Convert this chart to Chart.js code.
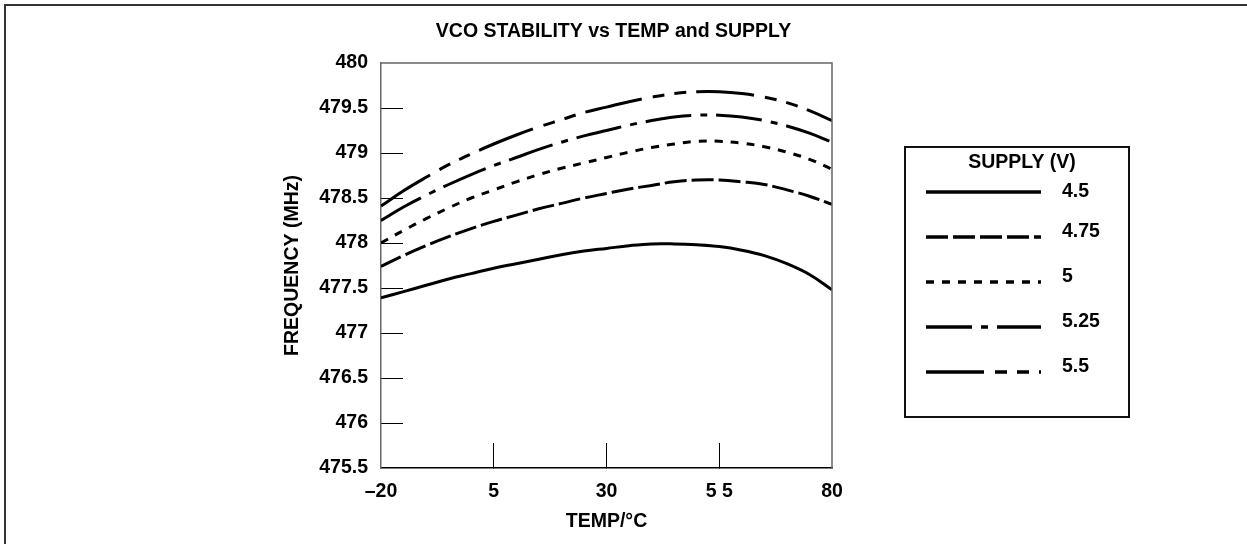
<!DOCTYPE html>
<html>
<head>
<meta charset="utf-8">
<script src="https://cdn.jsdelivr.net/npm/chart.js@4/dist/chart.umd.min.js"></script>
<style>
  html, body { margin: 0; padding: 0; background: #fff; }
  #wrap { position: relative; width: 1247px; height: 544px; overflow: hidden; }
  #frame { position: absolute; left: 4px; top: 4px; right: -10px; bottom: -10px;
           border-top: 2px solid #333; border-left: 2px solid #333; }
  #chart { position: absolute; left: 0; top: 0; }
</style>
</head>
<body>
<div id="wrap">
  <div id="frame"></div>
  <canvas id="chart" width="1247" height="544"></canvas>
</div>
<script>
// temperature (°C) and frequency (MHz) for each supply voltage
const temps = [-20, -15, -10, -5, 0, 5, 10, 15, 20, 25, 30, 35, 40, 45, 50, 55, 60, 65, 70, 75, 80]
const supply450 = [477.39, 477.46, 477.53, 477.60, 477.66, 477.72, 477.77, 477.82, 477.87, 477.91, 477.94, 477.97, 477.99, 477.99, 477.98, 477.96, 477.92, 477.86, 477.77, 477.65, 477.48]
const supply475 = [477.74, 477.86, 477.97, 478.07, 478.16, 478.24, 478.31, 478.38, 478.44, 478.50, 478.55, 478.60, 478.64, 478.68, 478.70, 478.70, 478.68, 478.65, 478.59, 478.52, 478.43]
const supply500 = [478.00, 478.14, 478.27, 478.39, 478.50, 478.59, 478.68, 478.76, 478.83, 478.89, 478.95, 479.01, 479.06, 479.10, 479.13, 479.13, 479.11, 479.07, 479.01, 478.93, 478.82]
const supply525 = [478.25, 478.40, 478.53, 478.65, 478.76, 478.86, 478.95, 479.04, 479.12, 479.19, 479.25, 479.31, 479.36, 479.40, 479.42, 479.42, 479.40, 479.36, 479.30, 479.22, 479.12]
const supply550 = [478.41, 478.58, 478.73, 478.87, 478.99, 479.10, 479.20, 479.29, 479.37, 479.45, 479.51, 479.57, 479.62, 479.66, 479.68, 479.68, 479.66, 479.62, 479.56, 479.47, 479.36]
const supplyLabels = ['4.5', '4.75', '5', '5.25', '5.5']
const xTickLabels = ['\u201320', '5', '30', '5 5', '80']
const yTickLabels = ['475.5', '476', '476.5', '477', '477.5', '478', '478.5', '479', '479.5', '480']

const FONT = "'Liberation Sans', Arial, Helvetica, sans-serif"
const bold = { family: FONT, size: 19.5, weight: 'bold' }

const series = [supply450, supply475, supply500, supply525, supply550]
const dashes = [[], [22, 5], [8, 8], [46, 9, 7, 9], [58, 11, 12, 10, 12, 10]]

const toPoints = vals => vals.map((v, i) => ({ x: temps[i], y: v }))

// top + right border of the plot
const plotFrame = {
  id: 'plotFrame',
  afterDraw(chart) {
    const { ctx, chartArea: a } = chart
    ctx.save()
    ctx.strokeStyle = '#666'
    ctx.lineWidth = 1.5
    ctx.beginPath()
    ctx.moveTo(a.left, a.top)
    ctx.lineTo(a.right, a.top)
    ctx.lineTo(a.right, a.bottom)
    ctx.stroke()
    ctx.restore()
  }
}

// boxed SUPPLY (V) legend to the right of the plot
const supplyLegend = {
  id: 'supplyLegend',
  afterDraw(chart) {
    const { ctx, chartArea: a } = chart
    const x0 = a.right + 73
    const y0 = a.top + 84
    ctx.save()
    ctx.strokeStyle = '#111'
    ctx.lineWidth = 2
    ctx.strokeRect(x0, y0, 224, 270)
    ctx.fillStyle = '#000'
    ctx.font = `bold 19.5px ${FONT}`
    ctx.textAlign = 'center'
    ctx.textBaseline = 'middle'
    ctx.fillText('SUPPLY (V)', x0 + 117, y0 + 16)
    chart.data.datasets.forEach((ds, i) => {
      const y = y0 + 45 + i * 45
      ctx.setLineDash(ds.borderDash)
      ctx.lineWidth = 3.5
      ctx.strokeStyle = '#000'
      ctx.beginPath()
      ctx.moveTo(x0 + 21, y)
      ctx.lineTo(x0 + 136, y)
      ctx.stroke()
      ctx.setLineDash([])
      ctx.textAlign = 'left'
      ctx.fillText(ds.label, x0 + 157, y - (i ? 5 : 0))
    })
    ctx.restore()
  }
}

const ctx = document.getElementById('chart').getContext('2d')
const chart = new Chart(ctx, {
  type: 'line',
  data: {
    datasets: series.map((vals, i) => ({
      label: supplyLabels[i],
      data: toPoints(vals),
      borderColor: '#000',
      borderWidth: 3,
      borderDash: dashes[i],
      borderCapStyle: 'butt',
      pointRadius: 0,
      tension: 0.4,
      fill: false,
    })),
  },
  options: {
    responsive: false,
    animation: false,
    devicePixelRatio: 1,
    layout: { padding: { left: 0, right: 20, top: 0, bottom: 0 } },
    plugins: {
      legend: { display: false },
      tooltip: { enabled: false },
      title: {
        display: true,
        text: 'VCO STABILITY vs TEMP and SUPPLY',
        color: '#000',
        font: bold,
        padding: { top: 20, bottom: 19.6 },
      },
    },
    scales: {
      x: {
        type: 'linear',
        min: -20,
        max: 80,
        afterFit: s => { s.height = 76 },
        ticks: {
          stepSize: 25,
          color: '#000',
          font: bold,
          padding: 37,
          maxRotation: 0,
          callback: (value, index) => xTickLabels[index],
        },
        grid: {
          drawOnChartArea: false,
          tickLength: -25,
          lineWidth: 1,
          color: c => (c.tick && (c.tick.value === -20 || c.tick.value === 80)) ? 'rgba(0,0,0,0)' : '#000',
        },
        border: { color: '#000', width: 1.5 },
        title: {
          display: true,
          text: 'TEMP/\u00b0C',
          color: '#000',
          font: bold,
          padding: { top: 0, bottom: 10.6 },
        },
      },
      y: {
        type: 'linear',
        position: 'left',
        min: 475.5,
        max: 480,
        afterFit: s => { s.width = 381 },
        ticks: {
          stepSize: 0.5,
          color: '#000',
          font: bold,
          padding: 35,
          callback: (value, index) => yTickLabels[index],
        },
        grid: {
          drawOnChartArea: false,
          tickLength: -22,
          lineWidth: 1,
          color: c => (c.tick && (c.tick.value === 480 || c.tick.value === 475.5)) ? 'rgba(0,0,0,0)' : '#000',
        },
        border: { color: '#666', width: 1.5 },
        title: {
          display: true,
          text: 'FREQUENCY (MHz)',
          color: '#000',
          font: bold,
          padding: { top: 281, bottom: 0 },
        },
      },
      legendSpace: {
        type: 'linear',
        position: 'right',
        afterFit: s => { s.width = 395 },
        ticks: { display: false },
        grid: { display: false },
        border: { display: false },
      },
    },
  },
  plugins: [plotFrame, supplyLegend],
})
</script>
</body>
</html>
